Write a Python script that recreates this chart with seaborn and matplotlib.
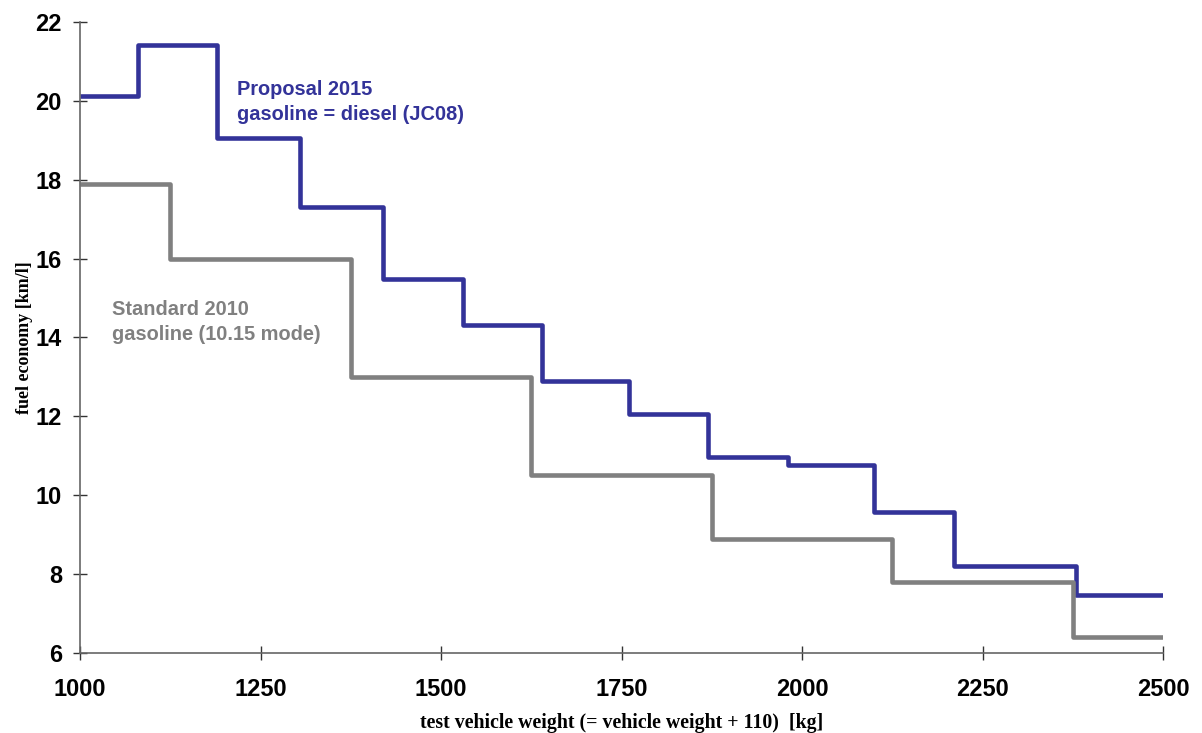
import numpy as np
import pandas as pd
import seaborn as sns
import matplotlib.pyplot as plt

# step edges (left edge of each class) and the level in that class, last point closes at 2500
prop_x = [1000, 1080, 1190, 1305, 1420, 1530, 1640, 1760, 1870, 1980, 2100, 2210, 2380, 2500]
prop_y = [20.12, 21.42, 19.05, 17.31, 15.48, 14.32, 12.9, 12.06, 10.97, 10.77, 9.58, 8.21, 7.46, 7.46]

std_x = [1000, 1125, 1375, 1625, 1875, 2125, 2375, 2500]
std_y = [17.9, 16.0, 13.0, 10.5, 8.9, 7.8, 6.4, 6.4]

x_ticks = [1000, 1250, 1500, 1750, 2000, 2250, 2500]
y_ticks = [6, 8, 10, 12, 14, 16, 18, 20, 22]

blue = '#333399'
grey = '#808080'

sns.set_style('white')
plt.rcParams['font.family'] = ['Liberation Sans', 'DejaVu Sans']

fig = plt.figure(figsize=(12.02, 7.33), dpi=100)
ax = fig.add_axes([0.0666, 0.1092, 0.901, 0.8608])

sns.lineplot(x=prop_x, y=prop_y, ax=ax, color=blue, lw=3.3, drawstyle='steps-post',
             estimator=None, sort=False, solid_joinstyle='round', solid_capstyle='butt')
sns.lineplot(x=std_x, y=std_y, ax=ax, color=grey, lw=3.3, drawstyle='steps-post',
             estimator=None, sort=False, solid_joinstyle='round', solid_capstyle='butt')

ax.set_xlim(1000, 2500)
ax.set_ylim(6, 22)
ax.set_xticks(x_ticks)
ax.set_yticks(y_ticks)
ax.set_xticklabels([str(v) for v in x_ticks], fontsize=17, fontweight='bold')
ax.set_yticklabels([str(v) for v in y_ticks], fontsize=17, fontweight='bold')
ax.tick_params(axis='both', bottom=True, left=True, direction='inout', length=10, width=1,
               color='#333333', labelcolor='black')
ax.tick_params(axis='x', pad=13)
ax.tick_params(axis='y', pad=8)

for s in ['top', 'right']:
    ax.spines[s].set_visible(False)
for s in ['left', 'bottom']:
    ax.spines[s].set_color('#666666')
    ax.spines[s].set_linewidth(1.2)

ax.set_xlabel('test vehicle weight (= vehicle weight + 110)  [kg]', family='Liberation Serif',
              fontweight='bold', fontsize=14.3, labelpad=9, color='black')
ax.set_ylabel('fuel economy [km/l]', family='Liberation Serif', fontweight='bold',
              fontsize=13, labelpad=2, color='black')

ax.text(1218, 19.97, 'Proposal 2015\ngasoline = diesel (JC08)', color=blue, fontsize=14.4,
        fontweight='bold', va='center', linespacing=1.4)
ax.text(1044, 14.4, 'Standard 2010\ngasoline (10.15 mode)', color=grey, fontsize=14.4,
        fontweight='bold', va='center', linespacing=1.4)

fig.savefig('out.png', dpi=100)
